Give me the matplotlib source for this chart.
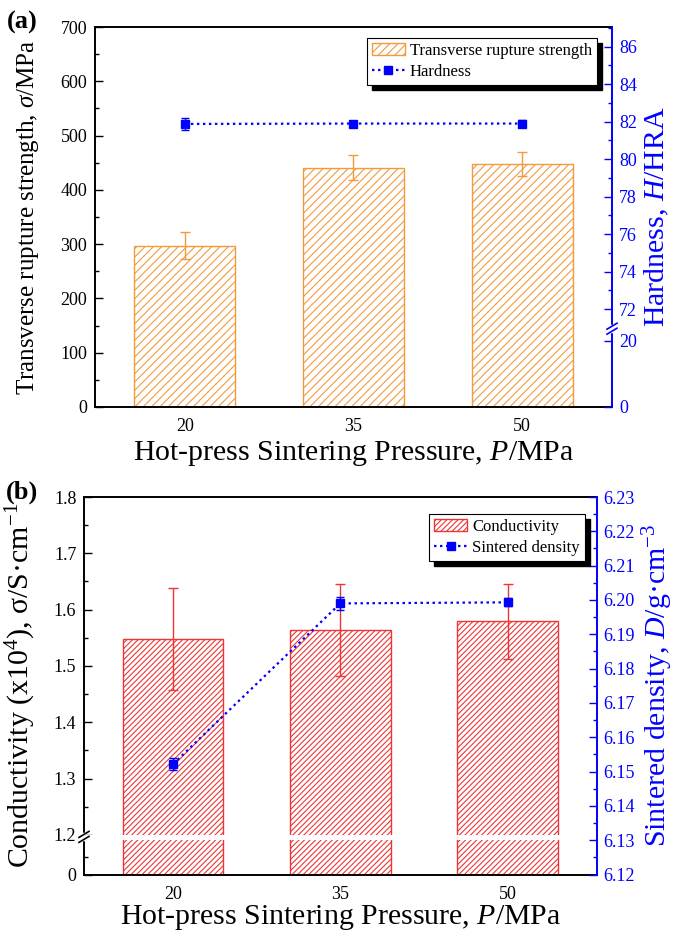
import numpy as np
import matplotlib
matplotlib.use('Agg')
import matplotlib.pyplot as plt
from matplotlib.patches import Rectangle
from matplotlib.lines import Line2D
from matplotlib.ticker import FixedLocator, NullLocator

plt.rcParams['font.family'] = ['Liberation Serif', 'DejaVu Serif']
plt.rcParams['mathtext.fontset'] = 'custom'
plt.rcParams['mathtext.rm'] = 'Liberation Serif'
plt.rcParams['mathtext.it'] = 'Liberation Serif:italic'
plt.rcParams['mathtext.bf'] = 'Liberation Serif:bold'
plt.rcParams['hatch.linewidth'] = 0.8

# ---------------- data ----------------
pressure = [20, 35, 50]
trs = [297, 441, 448]
trs_err = [25, 23, 22]
hardness = [81.88, 81.90, 81.90]
hardness_err = [0.30, 0.12, 0.18]
conductivity = [1.548, 1.564, 1.579]
conductivity_err = [0.091, 0.082, 0.067]
density = [6.1522, 6.1990, 6.1993]
density_err = [0.0017, 0.0018, 0.0012]

x_ticks = [20, 35, 50]
trs_ticks = [0, 100, 200, 300, 400, 500, 600, 700]
hard_ticks = [0, 20, 72, 74, 76, 78, 80, 82, 84, 86]
cond_ticks = [0, 1.2, 1.3, 1.4, 1.5, 1.6, 1.7, 1.8]
cond_tick_labels = ['0', '1.2', '1.3', '1.4', '1.5', '1.6', '1.7', '1.8']
dens_ticks = [6.12, 6.13, 6.14, 6.15, 6.16, 6.17, 6.18, 6.19, 6.20, 6.21, 6.22, 6.23]

ORANGE = '#F39A3C'
RED = '#EC3535'
BLUE = '#0000FF'

TICK_FS = 13
LABEL_FS = 21.5

W, H = 689, 931
fig = plt.figure(figsize=(W / 100, H / 100), dpi=100)


def piecewise(x, xp, fp):
    x = np.asarray(x, float)
    xp = np.asarray(xp, float)
    fp = np.asarray(fp, float)
    y = np.interp(x, xp, fp)
    lo_s = (fp[1] - fp[0]) / (xp[1] - xp[0])
    hi_s = (fp[-1] - fp[-2]) / (xp[-1] - xp[-2])
    y = np.where(x < xp[0], fp[0] + (x - xp[0]) * lo_s, y)
    y = np.where(x > xp[-1], fp[-1] + (x - xp[-1]) * hi_s, y)
    return y


def broken_scale(vals, pix):
    return (lambda v: piecewise(v, vals, pix), lambda p: piecewise(p, pix, vals))


def style_axes(ax, ax2):
    for s in ['left', 'bottom', 'top']:
        ax.spines[s].set_linewidth(1.4)
        ax.spines[s].set_color('black')
        ax2.spines[s].set_visible(False)
    ax.spines['right'].set_visible(False)
    ax2.spines['right'].set_color(BLUE)
    ax2.spines['right'].set_linewidth(1.4)
    ax.tick_params(axis='both', which='major', direction='in', length=5.5, width=1.0,
                   labelsize=TICK_FS, pad=5.5)
    ax.tick_params(axis='both', which='minor', direction='in', length=3, width=1.0)
    ax.tick_params(axis='x', top=False, pad=8)
    ax.tick_params(axis='y', right=False)
    ax2.tick_params(axis='y', which='major', direction='in', length=5.5, width=1.0,
                    labelsize=TICK_FS, colors=BLUE, pad=5)
    ax2.tick_params(axis='y', which='minor', direction='in', length=3, width=1.0,
                    colors=BLUE)
    ax.xaxis.set_minor_locator(NullLocator())


def break_mark(ax, yfrac, xfrac, color):
    bb = ax.get_position()
    aw = bb.width * W
    ah = bb.height * H
    dx = 5 / aw
    dy = 3 / ah
    gap = 2.5 / ah
    ax.add_line(Line2D([xfrac, xfrac], [yfrac - gap, yfrac + gap], transform=ax.transAxes,
                       color='white', lw=2.5, clip_on=False, zorder=10))
    for off in (-gap, gap):
        ax.add_line(Line2D([xfrac - dx, xfrac + dx], [yfrac + off - dy, yfrac + off + dy],
                           transform=ax.transAxes, color=color, lw=1.2, clip_on=False,
                           zorder=11))


def shadow_legend(fig, ax, leg, off=5):
    fig.canvas.draw()
    bb = leg.get_frame().get_window_extent()
    inv = fig.transFigure.inverted()
    (x0, y0) = inv.transform((bb.x0 + off, bb.y0 - off))
    (x1, y1) = inv.transform((bb.x1 + off, bb.y1 - off))
    r = Rectangle((x0, y0), x1 - x0, y1 - y0, transform=fig.transFigure,
                  facecolor='black', edgecolor='black', zorder=leg.get_zorder() - 0.1,
                  clip_on=False)
    ax.add_artist(r)


# ================= panel (a) =================
axA = fig.add_axes([95 / W, 1 - 407 / H, (612 - 95) / W, (407 - 27) / H])
axA2 = axA.twinx()
barsA = axA.bar(pressure, trs, width=9, facecolor='white', edgecolor=ORANGE, hatch='////',
                linewidth=1.0, zorder=2)
axA.errorbar(pressure, trs, yerr=trs_err, fmt='none', ecolor=ORANGE, elinewidth=1.0,
             capsize=3.5, capthick=1.0, zorder=3)
axA.set_xlim(12, 58)
axA.set_ylim(0, 700)
axA.set_xticks(x_ticks)
axA.set_yticks(trs_ticks)
axA.yaxis.set_minor_locator(FixedLocator(np.arange(50, 700, 100)))

fA, iA = broken_scale([0, 23.5, 71, 87], [0, 77.6, 79.05, 379.05])
axA2.set_yscale('function', functions=(fA, iA))
axA2.set_ylim(0, 87.05)
axA2.errorbar(pressure, hardness, yerr=hardness_err, color=BLUE, ls=(0, (1.1, 1.6)), lw=1.6,
              marker='s', ms=5.5, ecolor=BLUE, elinewidth=1.0, capsize=3, capthick=1.0,
              zorder=4)
axA2.yaxis.set_major_locator(FixedLocator(hard_ticks))
axA2.yaxis.set_minor_locator(FixedLocator(np.arange(73, 88, 2)))
style_axes(axA, axA2)

axA.set_xlabel('Hot-press Sintering Pressure, $\\mathit{P}$/MPa', fontsize=LABEL_FS)
axA.set_ylabel('Transverse rupture strength, $\\mathit{\\sigma}$/MPa', fontsize=18)
axA2.set_ylabel('Hardness, $\\mathit{H}$/HRA', fontsize=LABEL_FS, color=BLUE)
axA.xaxis.set_label_coords(0.5, -0.085)
axA.yaxis.set_label_coords(-0.105, 0.5)
axA2.yaxis.set_label_coords(1.06, 0.5)
break_mark(axA2, 78.3 / 380, 1.0, BLUE)

hA = [Rectangle((0, 0), 1, 1, facecolor='white', edgecolor=ORANGE, hatch='////', lw=1.0),
      Line2D([], [], color=BLUE, ls=(0, (1.1, 1.6)), lw=1.6, marker='s', ms=5.5)]
legA = axA2.legend(hA, ['Transverse rupture strength', 'Hardness'], loc='upper right',
                   bbox_to_anchor=(0.971, 0.971), fontsize=12, frameon=True, fancybox=False,
                   framealpha=1, edgecolor='black', borderpad=0.3, labelspacing=0.3,
                   handlelength=2.0, handletextpad=0.3, borderaxespad=0)
legA.get_frame().set_linewidth(0.8)

# ================= panel (b) =================
axB = fig.add_axes([84 / W, 1 - 874.5 / H, (596.7 - 84) / W, (874.5 - 497) / H])
axB2 = axB.twinx()
fB, iB = broken_scale([0, 1.0, 1.2, 1.8], [0, 35.5, 39.7, 377.5])
axB.set_yscale('function', functions=(fB, iB))
axB.bar(pressure, conductivity, width=9, facecolor='white', edgecolor=RED, hatch='//////',
        linewidth=1.0, zorder=2)
axB.errorbar(pressure, conductivity, yerr=conductivity_err, fmt='none', ecolor=RED,
             elinewidth=1.0, capsize=3.5, capthick=1.0, zorder=3)
axB.axhspan(0.985, 1.198, facecolor='white', edgecolor='none', zorder=2.5)
axB.set_xlim(12, 58)
axB.set_ylim(0, 1.8)
axB.set_xticks(x_ticks)
axB.yaxis.set_major_locator(FixedLocator(cond_ticks))
axB.set_yticklabels(cond_tick_labels)
axB.yaxis.set_minor_locator(FixedLocator([0.5, 1.25, 1.35, 1.45, 1.55, 1.65, 1.75]))

axB2.set_ylim(6.12, 6.23)
axB2.errorbar(pressure, density, yerr=density_err, color=BLUE, ls=(0, (1.1, 1.6)), lw=1.6,
              marker='s', ms=5.5, ecolor=BLUE, elinewidth=1.0, capsize=3, capthick=1.0,
              zorder=4)
axB2.yaxis.set_major_locator(FixedLocator(dens_ticks))
axB2.yaxis.set_minor_locator(FixedLocator(np.arange(6.125, 6.23, 0.01)))
axB2.set_yticklabels(['%.2f' % t for t in dens_ticks])
style_axes(axB, axB2)

axB.set_xlabel('Hot-press Sintering Pressure, $\\mathit{P}$/MPa', fontsize=LABEL_FS)
axB.set_ylabel('Conductivity (x10$^{4}$), σ/S·cm$^{-1}$', fontsize=LABEL_FS)
axB2.set_ylabel('Sintered density, $\\mathit{D}$/g·cm$^{-3}$', fontsize=LABEL_FS, color=BLUE)
axB.xaxis.set_label_coords(0.5, -0.075)
axB.yaxis.set_label_coords(-0.09, 0.5)
axB2.yaxis.set_label_coords(1.085, 0.5)
break_mark(axB, 37.6 / 377.5, 0.0, 'black')

hB = [Rectangle((0, 0), 1, 1, facecolor='white', edgecolor=RED, hatch='//////', lw=1.0),
      Line2D([], [], color=BLUE, ls=(0, (1.1, 1.6)), lw=1.6, marker='s', ms=5.5)]
legB = axB2.legend(hB, ['Conductivity', 'Sintered density'], loc='upper right',
                   bbox_to_anchor=(0.977, 0.955), fontsize=12, frameon=True, fancybox=False,
                   framealpha=1, edgecolor='black', borderpad=0.3, labelspacing=0.3,
                   handlelength=2.0, handletextpad=0.3, borderaxespad=0)
legB.get_frame().set_linewidth(0.8)

fig.text(22 / W, 1 - 22 / H, '(a)', fontsize=19, fontweight='bold', ha='center', va='center')
fig.text(22 / W, 1 - 492 / H, '(b)', fontsize=19, fontweight='bold', ha='center', va='center')

shadow_legend(fig, axA2, legA)
shadow_legend(fig, axB2, legB)

fig.savefig('out.png', dpi=100)
